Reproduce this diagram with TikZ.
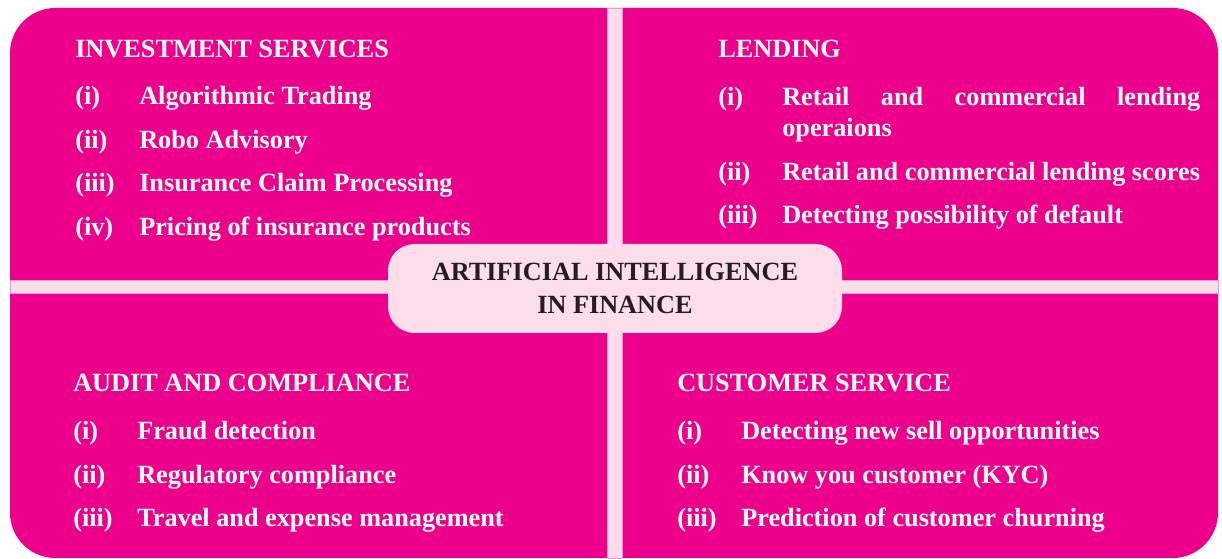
\documentclass[tikz,border=0pt]{standalone}
\usepackage{fontspec}
\setmainfont{Liberation Serif}
\usepackage{xcolor}
\usepackage{tikz}
\usetikzlibrary{positioning}
\definecolor{aimagenta}{HTML}{EC008C}
\definecolor{aiblush}{HTML}{FCDDEA}
\definecolor{aiink}{HTML}{231F20}

\begin{document}
\begin{tikzpicture}[
  x=0.75pt, y=-0.75pt,
  head/.style={anchor=base west, inner sep=0, text=white,
    font=\fontsize{19.7}{24.75}\selectfont\bfseries},
  num/.style={head},
  item/.style={head},
  strip/.style={fill=aiblush, draw=aimagenta!40, line width=0.5pt},
]
\useasboundingbox (0,0) rectangle (1222,559);
% --- background and dividers ---
\fill[aimagenta, rounded corners=34pt] (10,8) rectangle (1218,558);
\fill[strip] (607,8) rectangle (622,558);
\fill[strip] (10,280) rectangle (1218,293);
\node[fill=aiblush, rounded corners=20pt, minimum width=340.5pt,
  minimum height=66.75pt, align=center, text=aiink,
  font=\fontsize{19.7}{24.75}\selectfont\bfseries]
  (core) at (615,288.5) {ARTIFICIAL INTELLIGENCE\\IN FINANCE};
% --- investment services ---
\node[head] (invhead) at (75,58) {INVESTMENT SERVICES};
\node[num] (inv1n) at (75,105) {(i)};
\node[item] (inv1) at (139,105) {Algorithmic Trading};
\node[num] (inv2n) at (75,149) {(ii)};
\node[item] (inv2) at (139,149) {Robo Advisory};
\node[num] (inv3n) at (75,192) {(iii)};
\node[item] (inv3) at (139,192) {Insurance Claim Processing};
\node[num] (inv4n) at (75,236) {(iv)};
\node[item] (inv4) at (139,236) {Pricing of insurance products};
% --- lending ---
\node[head] (lendhead) at (718,58) {LENDING};
\node[num] (lend1n) at (718,106) {(i)};
\node[item, text width=313.5pt, align=justify,
  font=\fontsize{19.7}{23.25}\selectfont\bfseries]
  (lend1) at (782,106) {Retail and commercial lending\linebreak operaions};
\node[num] (lend2n) at (718,181) {(ii)};
\node[item] (lend2) at (782,181) {Retail and commercial lending scores};
\node[num] (lend3n) at (718,224) {(iii)};
\node[item] (lend3) at (782,224) {Detecting possibility of default};
% --- audit and compliance ---
\node[head] (audhead) at (73,392) {AUDIT AND COMPLIANCE};
\node[num] (aud1n) at (73,440) {(i)};
\node[item] (aud1) at (137,440) {Fraud detection};
\node[num] (aud2n) at (73,484) {(ii)};
\node[item] (aud2) at (137,484) {Regulatory compliance};
\node[num] (aud3n) at (73,527) {(iii)};
\node[item] (aud3) at (137,527) {Travel and expense management};
% --- customer service ---
\node[head] (cushead) at (677,392) {CUSTOMER SERVICE};
\node[num] (cus1n) at (677,440) {(i)};
\node[item] (cus1) at (741,440) {Detecting new sell opportunities};
\node[num] (cus2n) at (677,484) {(ii)};
\node[item] (cus2) at (741,484) {Know you customer (KYC)};
\node[num] (cus3n) at (677,527) {(iii)};
\node[item] (cus3) at (741,527) {Prediction of customer churning};
\end{tikzpicture}
\end{document}
